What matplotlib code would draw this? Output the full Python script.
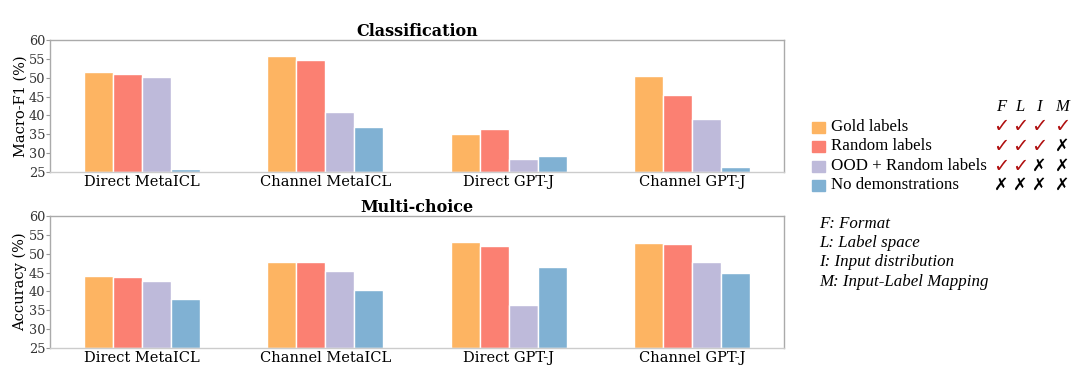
import numpy as np
import matplotlib.pyplot as plt
from matplotlib.patches import Rectangle

models = ['Direct MetaICL', 'Channel MetaICL', 'Direct GPT-J', 'Channel GPT-J']
settings = ['Gold labels', 'Random labels', 'OOD + Random labels', 'No demonstrations']
colors = ['#fdb462', '#fb8072', '#bebada', '#80b1d3']

# rows: settings, columns: models
cls_scores = [
    [51.4, 55.7, 35.1, 50.5],
    [50.9, 54.8, 36.4, 45.3],
    [50.2, 41.0, 28.5, 39.0],
    [25.8, 36.9, 29.3, 26.3],
]
mc_scores = [
    [44.0, 47.9, 53.1, 52.9],
    [43.7, 47.9, 52.1, 52.7],
    [42.8, 45.5, 36.5, 47.7],
    [37.9, 40.3, 46.5, 44.9],
]

# F, L, I, M marks per setting
marks = [
    [1, 1, 1, 1],
    [1, 1, 1, 0],
    [1, 1, 0, 0],
    [0, 0, 0, 0],
]
mark_names = ['F', 'L', 'I', 'M']
footnotes = ['F: Format', 'L: Label space', 'I: Input distribution', 'M: Input-Label Mapping']

W, H = 1080, 386
fig = plt.figure(figsize=(W / 100, H / 100), dpi=100)

def px_axes(left, top, right, bottom):
    return fig.add_axes([left / W, 1 - bottom / H, (right - left) / W, (bottom - top) / H])

ax_cls = px_axes(50, 40, 784, 172)
ax_mc = px_axes(50, 216, 784, 348)

x = np.arange(len(models))
bw = 0.158

for ax, scores, title, ylabel in [(ax_cls, cls_scores, 'Classification', 'Macro-F1 (%)'),
                                  (ax_mc, mc_scores, 'Multi-choice', 'Accuracy (%)')]:
    for i, vals in enumerate(scores):
        offs = (i - 1.5) * bw
        ax.bar(x + offs, np.array(vals) - 25, bw, bottom=25, color=colors[i],
               edgecolor='white', linewidth=1.0)
    ax.set_xlim(-0.5, 3.5)
    ax.set_ylim(25, 60)
    ax.set_yticks(range(25, 61, 5))
    ax.set_xticks(x)
    ax.set_xticklabels(models, fontsize=10.5, family='DejaVu Serif')
    ax.tick_params(axis='x', length=0, pad=2)
    ax.tick_params(axis='y', length=3, color='#999999', labelsize=9.3, pad=0.5)
    for lab in ax.get_yticklabels():
        lab.set_family('DejaVu Serif')
        lab.set_color('#333333')
    for s in ax.spines.values():
        s.set_color('#aaaaaa')
        s.set_linewidth(1.0)
    ax.spines['bottom'].set_color('#cccccc')
    ax.set_ylabel(ylabel, fontsize=10.5, family='DejaVu Serif', labelpad=1)
    ax.set_title(title, fontsize=11.5, fontweight='bold', family='DejaVu Serif', pad=2)

# legend with check marks
mark_x = [1001, 1020, 1039, 1062]
row_y = [127, 146, 166, 185]
for j, name in enumerate(mark_names):
    fig.text(mark_x[j] / W, 1 - 107 / H, name, ha='center', va='center',
             fontsize=12, style='italic', family='Liberation Serif')
for i, lab in enumerate(settings):
    y = 1 - row_y[i] / H
    fig.patches.append(Rectangle((812 / W, y - 5.5 / H), 13 / W, 11 / H,
                                 transform=fig.transFigure, color=colors[i]))
    fig.text(831 / W, y, lab, ha='left', va='center', fontsize=12.2,
             family='Liberation Serif')
    for j, m in enumerate(marks[i]):
        if m:
            fig.text(mark_x[j] / W, y, '\u2713', ha='center', va='center', fontsize=14,
                     color='#b01010', family='DejaVu Sans', fontweight='bold')
        else:
            fig.text(mark_x[j] / W, y, '\u2717', ha='center', va='center', fontsize=12.5,
                     color='black', family='DejaVu Sans', fontweight='bold')

foot_y = [224, 243, 262, 282]
for k, t in enumerate(footnotes):
    fig.text(819 / W, 1 - foot_y[k] / H, t, ha='left', va='center', fontsize=12.2,
             style='italic', family='Liberation Serif')

fig.savefig('out.png', dpi=100)
